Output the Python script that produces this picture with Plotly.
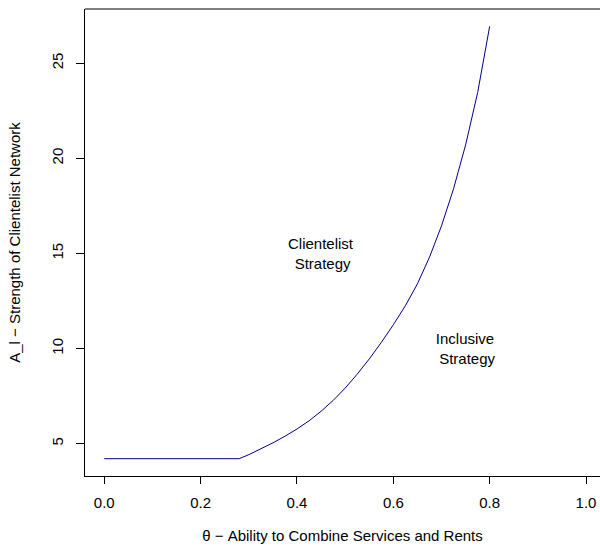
import plotly.graph_objects as go

# Data
theta = [0.0, 0.28, 0.30, 0.325, 0.35, 0.375, 0.40, 0.425, 0.45, 0.475, 0.50, 0.525,
         0.55, 0.575, 0.60, 0.625, 0.65, 0.675, 0.70, 0.725, 0.75, 0.775, 0.80]
A_l = [4.21, 4.21, 4.42, 4.72, 5.04, 5.39, 5.77, 6.20, 6.70, 7.27, 7.92, 8.65,
       9.45, 10.32, 11.25, 12.25, 13.40, 14.80, 16.45, 18.40, 20.70, 23.45, 26.94]

x_ticks = [0.0, 0.2, 0.4, 0.6, 0.8, 1.0]
x_ticklabels = ["0.0", "0.2", "0.4", "0.6", "0.8", "1.0"]
y_ticks = [5, 10, 15, 20, 25]
y_ticklabels = ["5", "10", "15", "20", "25"]

region_labels = ["Clientelist<br> Strategy", "Inclusive<br> Strategy"]
region_x = [0.45, 0.75]
region_y = [15, 10]

FONT = "Liberation Sans, Arial, Helvetica, sans-serif"
FS = 15

fig = go.Figure()
fig.add_trace(go.Scatter(
    x=theta, y=A_l, mode="lines",
    line=dict(color="#00008B", width=1),
    showlegend=False, hoverinfo="skip",
))

for t, xx, yy in zip(region_labels, region_x, region_y):
    fig.add_annotation(x=xx, y=yy, text=t, showarrow=False, xref="x", yref="y",
                       font=dict(family=FONT, size=FS, color="black"), align="center")

fig.update_layout(
    width=600, height=546,
    margin=dict(l=85, r=0, t=9, b=70),
    paper_bgcolor="white", plot_bgcolor="white",
    font=dict(family=FONT, size=FS, color="black"),
    xaxis=dict(
        range=[-0.04, 1.029], tickmode="array", tickvals=x_ticks, ticktext=x_ticklabels,
        ticks="outside", ticklen=7, tickwidth=1, tickcolor="black", ticklabelstandoff=6,
        showgrid=False, zeroline=False, showline=True, linecolor="black", linewidth=1,
        title=dict(text="θ − Ability to Combine Services and Rents", standoff=20,
                   font=dict(family=FONT, size=FS)),
        tickfont=dict(family=FONT, size=FS),
    ),
    yaxis=dict(
        range=[3.30, 27.85], tickmode="array", tickvals=y_ticks, ticktext=y_ticklabels,
        ticks="outside", ticklen=8, tickwidth=1, tickcolor="black", tickangle=-90,
        ticklabelstandoff=7,
        showgrid=False, zeroline=False, showline=True, linecolor="black", linewidth=1,
        title=dict(text="A_l − Strength of Clientelist Network", standoff=24,
                   font=dict(family=FONT, size=FS)),
        tickfont=dict(family=FONT, size=FS),
    ),
    shapes=[dict(type="line", xref="paper", yref="paper", x0=0, x1=1.01, y0=1, y1=1,
                 line=dict(color="black", width=1))],
)

fig.write_html("out.html")
